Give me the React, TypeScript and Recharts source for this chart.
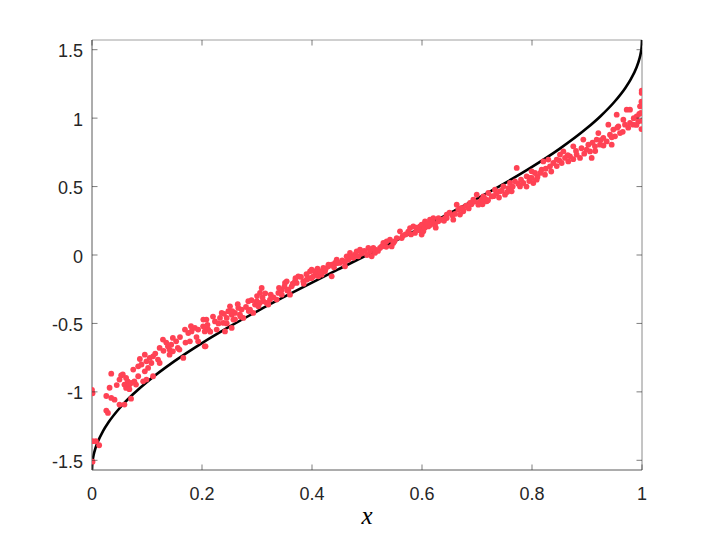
import { ComposedChart, XAxis, YAxis, Line, Scatter, ReferenceLine } from 'recharts';

// plot box in page pixels (matlab-style axes with box on)
const PLOT_LEFT = 92;
const PLOT_RIGHT = 642;
const PLOT_TOP = 40;
const PLOT_BOTTOM = 470;
const AXIS_COLOR = '#262626';
const DOT_COLOR = '#ff4254';

const X_TICKS = [0, 0.2, 0.4, 0.6, 0.8, 1];
const Y_TICKS = [-1.5, -1, -0.5, 0, 0.5, 1, 1.5];
const Y_LIMIT = 1.5708;

// black reference curve
const CURVE_X = [
  0, 0.0005, 0.002, 0.005, 0.01, 0.02, 0.03, 0.05, 0.075, 0.1, 0.15, 0.2, 0.25, 0.3, 0.35, 0.4, 0.45, 0.5,
  0.55, 0.6, 0.65, 0.7, 0.75, 0.8, 0.85, 0.9, 0.925, 0.95, 0.97, 0.98, 0.99, 0.995, 0.998, 0.9995, 1,
];
const CURVE_Y = [
  -1.5708, -1.5261, -1.4813, -1.4293, -1.3705, -1.287, -1.2226, -1.1198, -1.016, -0.9273, -0.7754, -0.6435,
  -0.5236, -0.4115, -0.3047, -0.2014, -0.1002, 0, 0.1002, 0.2014, 0.3047, 0.4115, 0.5236, 0.6435, 0.7754,
  0.9273, 1.016, 1.1198, 1.2226, 1.287, 1.3705, 1.4293, 1.4813, 1.5261, 1.5708,
];

// red samples, [x, y]
const SAMPLES: [number, number][] = [
  [0, -0.985], [0.001, -1.01], [0.001, -1.36], [0.007, -1.36], [0.013, -1.39], [0.001, -1.51],
  [0.035, -0.867], [0.032, -0.97], [0.026, -1.03], [0.035, -1.044], [0.041, -1.057], [0.026, -1.137],
  [0.029, -1.154], [0.05, -1.093], [0.059, -1.093], [0.071, -1.05], [0.05, -0.91], [0.053, -0.88],
  [0.056, -0.873], [0.062, -0.898], [0.065, -0.923], [0.059, -0.947], [0.062, -0.971], [0.068, -0.947],
  [0.071, -0.935], [0.077, -0.923], [0.08, -0.947], [0.084, -0.886], [0.093, -0.923], [0.099, -0.91],
  [0.111, -0.886], [0.075, -0.837], [0.084, -0.813], [0.087, -0.76], [0.096, -0.728], [0.099, -0.777],
  [0.105, -0.752], [0.108, -0.789], [0.102, -0.825], [0.096, -0.85], [0.111, -0.74], [0.12, -0.764],
  [0.123, -0.789], [0.123, -0.679], [0.129, -0.618], [0.138, -0.667], [0.141, -0.691], [0.147, -0.606],
  [0.144, -0.655], [0.153, -0.631], [0.156, -0.679], [0.147, -0.704], [0.141, -0.728], [0.159, -0.691],
  [0.166, -0.752], [0.169, -0.545], [0.175, -0.57], [0.181, -0.558], [0.187, -0.533], [0.193, -0.545],
  [0.202, -0.521], [0.205, -0.558], [0.178, -0.631], [0.193, -0.631], [0.205, -0.667], [0.208, -0.472],
  [0.045, -0.95], [0.068, -0.98], [0.09, -0.8], [0.115, -0.72], [0.13, -0.7], [0.135, -0.64],
  [0.16, -0.6], [0.17, -0.64], [0.18, -0.52], [0.19, -0.6],
  [0.2024, -0.472], [0.2064, -0.533], [0.2115, -0.545], [0.2064, -0.667], [0.2236, -0.485], [0.2267, -0.545],
  [0.2327, -0.46], [0.2358, -0.423], [0.2388, -0.496], [0.2418, -0.558], [0.2449, -0.46], [0.2479, -0.411],
  [0.2509, -0.375], [0.254, -0.436], [0.257, -0.472], [0.254, -0.533], [0.26, -0.423], [0.266, -0.387],
  [0.269, -0.436], [0.272, -0.399], [0.2751, -0.46], [0.2842, -0.338], [0.2873, -0.399], [0.2933, -0.423],
  [0.2964, -0.362], [0.2994, -0.338], [0.3024, -0.375], [0.3055, -0.277], [0.3085, -0.241], [0.3115, -0.338],
  [0.3176, -0.35], [0.3206, -0.362], [0.3236, -0.326], [0.3358, -0.326], [0.3388, -0.277], [0.3449, -0.253],
  [0.3509, -0.204], [0.354, -0.192], [0.357, -0.253], [0.36, -0.29], [0.363, -0.229], [0.369, -0.192],
  [0.3751, -0.156], [0.372, -0.204], [0.3842, -0.192], [0.3903, -0.18], [0.3964, -0.119], [0.3994, -0.168],
  [0.21, -0.51], [0.215, -0.56], [0.22, -0.45], [0.23, -0.5], [0.24, -0.43], [0.245, -0.5], [0.255, -0.41],
  [0.26, -0.47], [0.265, -0.36], [0.27, -0.45], [0.28, -0.38], [0.285, -0.41], [0.29, -0.33], [0.3, -0.3],
  [0.305, -0.35], [0.31, -0.31], [0.315, -0.28], [0.325, -0.29], [0.33, -0.31], [0.34, -0.24], [0.345, -0.29],
  [0.35, -0.23], [0.355, -0.26], [0.365, -0.21], [0.37, -0.17], [0.38, -0.16], [0.385, -0.21], [0.39, -0.14],
  [0.395, -0.17],
  [0.3994, -0.107], [0.4024, -0.156], [0.4085, -0.131], [0.4115, -0.156], [0.4176, -0.144], [0.4206, -0.095],
  [0.4236, -0.119], [0.4297, -0.083], [0.4358, -0.07], [0.4358, -0.156], [0.4418, -0.058], [0.4449, -0.034],
  [0.4509, -0.058], [0.4569, -0.046], [0.46, -0.083], [0.463, -0.01], [0.466, -0.034], [0.4691, 0.015],
  [0.4721, -0.01], [0.4782, 0.003], [0.4812, 0.027], [0.4873, 0.039], [0.4842, -0.01], [0.5024, 0.051],
  [0.5055, 0.027], [0.5085, -0.01], [0.5145, 0.015], [0.5115, 0.051], [0.5236, 0.051], [0.5267, 0.063],
  [0.5297, 0.088], [0.5358, 0.1], [0.5418, 0.112], [0.5449, 0.063], [0.5479, 0.088], [0.554, 0.124],
  [0.56, 0.173], [0.5631, 0.124], [0.5782, 0.197], [0.5842, 0.209], [0.5873, 0.161], [0.5903, 0.185],
  [0.5964, 0.209], [0.5994, 0.149], [0.6024, 0.222],
  [0.405, -0.12], [0.41, -0.1], [0.415, -0.12], [0.425, -0.1], [0.43, -0.07], [0.44, -0.09], [0.445, -0.06],
  [0.455, -0.04], [0.46, -0.05], [0.475, -0.02], [0.49, 0.01], [0.495, 0.03], [0.5, 0.0], [0.515, 0.04],
  [0.52, 0.03], [0.53, 0.07], [0.535, 0.06], [0.55, 0.1], [0.565, 0.14], [0.57, 0.15], [0.575, 0.17],
  [0.58, 0.15], [0.59, 0.2], [0.595, 0.18],
  [0.5994, 0.222], [0.6024, 0.173], [0.6055, 0.246], [0.6115, 0.209], [0.6145, 0.258], [0.6206, 0.27],
  [0.6236, 0.222], [0.6297, 0.246], [0.6358, 0.258], [0.6418, 0.27], [0.6449, 0.295], [0.6569, 0.258],
  [0.6631, 0.368], [0.666, 0.331], [0.6722, 0.344], [0.6751, 0.319], [0.6691, 0.295], [0.6873, 0.38],
  [0.6933, 0.404], [0.6995, 0.441], [0.7024, 0.368], [0.7085, 0.404], [0.7115, 0.428], [0.7176, 0.392],
  [0.7206, 0.453], [0.7267, 0.428], [0.7327, 0.477], [0.7418, 0.465], [0.7479, 0.501], [0.7509, 0.441],
  [0.757, 0.489], [0.76, 0.526], [0.763, 0.465], [0.7691, 0.538], [0.7722, 0.636], [0.7782, 0.501],
  [0.7842, 0.526], [0.7903, 0.575], [0.7964, 0.563], [0.7994, 0.611], [0.8024, 0.526],
  [0.605, 0.2], [0.61, 0.23], [0.615, 0.22], [0.62, 0.24], [0.625, 0.2], [0.63, 0.27], [0.64, 0.25],
  [0.645, 0.27], [0.65, 0.31], [0.655, 0.29], [0.66, 0.3], [0.675, 0.33], [0.68, 0.36], [0.685, 0.34],
  [0.69, 0.37], [0.695, 0.39], [0.705, 0.39], [0.71, 0.37], [0.715, 0.41], [0.72, 0.4], [0.73, 0.43],
  [0.735, 0.45], [0.74, 0.42], [0.745, 0.47], [0.755, 0.46], [0.765, 0.5], [0.775, 0.52], [0.78, 0.55],
  [0.79, 0.5], [0.795, 0.54],
  [0.7994, 0.563], [0.8055, 0.599], [0.8085, 0.55], [0.8176, 0.624], [0.8206, 0.684], [0.8236, 0.587],
  [0.8297, 0.697], [0.8327, 0.648], [0.8387, 0.672], [0.8449, 0.697], [0.8509, 0.733], [0.854, 0.672],
  [0.857, 0.757], [0.86, 0.709], [0.866, 0.684], [0.8691, 0.721], [0.8751, 0.794], [0.8812, 0.733],
  [0.8873, 0.709], [0.8933, 0.843], [0.8994, 0.77], [0.9024, 0.806], [0.9055, 0.757], [0.9085, 0.709],
  [0.9145, 0.794], [0.9176, 0.843], [0.9206, 0.891], [0.9236, 0.806], [0.9297, 0.855], [0.9358, 0.83],
  [0.9388, 0.952], [0.9418, 0.879], [0.9449, 0.806], [0.9479, 0.916], [0.9509, 0.867], [0.954, 1.025],
  [0.957, 0.94], [0.96, 0.891], [0.9661, 0.989], [0.9691, 0.952], [0.9722, 1.062], [0.9782, 1.062],
  [0.9782, 0.965], [0.9842, 0.952], [0.9903, 1.013], [0.9933, 0.976], [0.9964, 1.086], [0.9994, 1.184],
  [0.998, 1.038], [0.9995, 1.2], [0.999, 1.12], [0.999, 0.92],
  [0.81, 0.57], [0.815, 0.6], [0.825, 0.63], [0.835, 0.61], [0.845, 0.65], [0.85, 0.69], [0.865, 0.73],
  [0.875, 0.7], [0.88, 0.76], [0.89, 0.78], [0.895, 0.74], [0.91, 0.82], [0.915, 0.76], [0.925, 0.84],
  [0.93, 0.8], [0.945, 0.86], [0.955, 0.93], [0.965, 0.9], [0.975, 0.93], [0.985, 1.0], [0.99, 0.95],
  [0.995, 1.03], [1.0, 1.1], [1.0, 0.98],
];

const curveData = CURVE_X.map((x, i) => ({ x, y: CURVE_Y[i] }));
const sampleData = SAMPLES.map(([x, y]) => ({ x, y }));

const labelStyle = { fontFamily: '"Liberation Sans", Arial, sans-serif', fontSize: 18, fill: AXIS_COLOR };

// matlab draws ticks inward on both sides of the box
const XTick = (props: any) => {
  const { x, payload } = props;
  return (
    <g>
      <line x1={x} x2={x} y1={PLOT_BOTTOM} y2={PLOT_BOTTOM - 5.5} stroke={AXIS_COLOR} strokeWidth={0.6} />
      <line x1={x} x2={x} y1={PLOT_TOP} y2={PLOT_TOP + 5.5} stroke={AXIS_COLOR} strokeWidth={0.6} />
      <text x={x} y={500} textAnchor="middle" {...labelStyle}>
        {String(payload.value)}
      </text>
    </g>
  );
};

const YTick = (props: any) => {
  const { y, payload } = props;
  return (
    <g>
      <line x1={PLOT_LEFT} x2={PLOT_LEFT + 5.5} y1={y} y2={y} stroke={AXIS_COLOR} strokeWidth={0.6} />
      <line x1={PLOT_RIGHT} x2={PLOT_RIGHT - 5.5} y1={y} y2={y} stroke={AXIS_COLOR} strokeWidth={0.6} />
      <text x={PLOT_LEFT - 9} y={y + 7.5} textAnchor="end" {...labelStyle}>
        {String(payload.value)}
      </text>
    </g>
  );
};

const Dot = (props: any) => <circle cx={props.cx} cy={props.cy} r={2.9} fill={DOT_COLOR} />;

export default function App() {
  return (
    <div style={{ position: 'absolute', left: 0, top: 0, width: 710, height: 533, background: '#fff' }}>
      <ComposedChart
        width={710}
        height={533}
        margin={{ top: PLOT_TOP, right: 710 - PLOT_RIGHT, bottom: 533 - PLOT_BOTTOM - 30, left: PLOT_LEFT - 40 }}
      >
        <XAxis
          type="number"
          dataKey="x"
          domain={[0, 1]}
          ticks={X_TICKS}
          interval={0}
          height={30}
          allowDataOverflow
          tickLine={false}
          tick={XTick}
          axisLine={{ stroke: '#5a5a5a', strokeWidth: 1 }}
          label={{
            value: 'x',
            content: () => (
              <text
                x={367}
                y={524}
                textAnchor="middle"
                fontFamily='"Liberation Serif", "DejaVu Serif", serif'
                fontStyle="italic"
                fontSize={25}
                fill="#000"
              >
                x
              </text>
            ),
          }}
        />
        <YAxis
          type="number"
          dataKey="y"
          domain={[-Y_LIMIT, Y_LIMIT]}
          ticks={Y_TICKS}
          interval={0}
          width={40}
          allowDataOverflow
          tickLine={false}
          tick={YTick}
          axisLine={{ stroke: '#5a5a5a', strokeWidth: 1 }}
        />
        <ReferenceLine x={1} stroke="#8a8a8a" strokeWidth={1} />
        <ReferenceLine y={Y_LIMIT} stroke="#a0a0a0" strokeWidth={1} />
        <Line
          data={curveData}
          dataKey="y"
          type="monotone"
          stroke="#000"
          strokeWidth={2.6}
          dot={false}
          activeDot={false}
          isAnimationActive={false}
        />
        <Scatter data={sampleData} dataKey="y" shape={Dot} isAnimationActive={false} />
      </ComposedChart>
    </div>
  );
}
